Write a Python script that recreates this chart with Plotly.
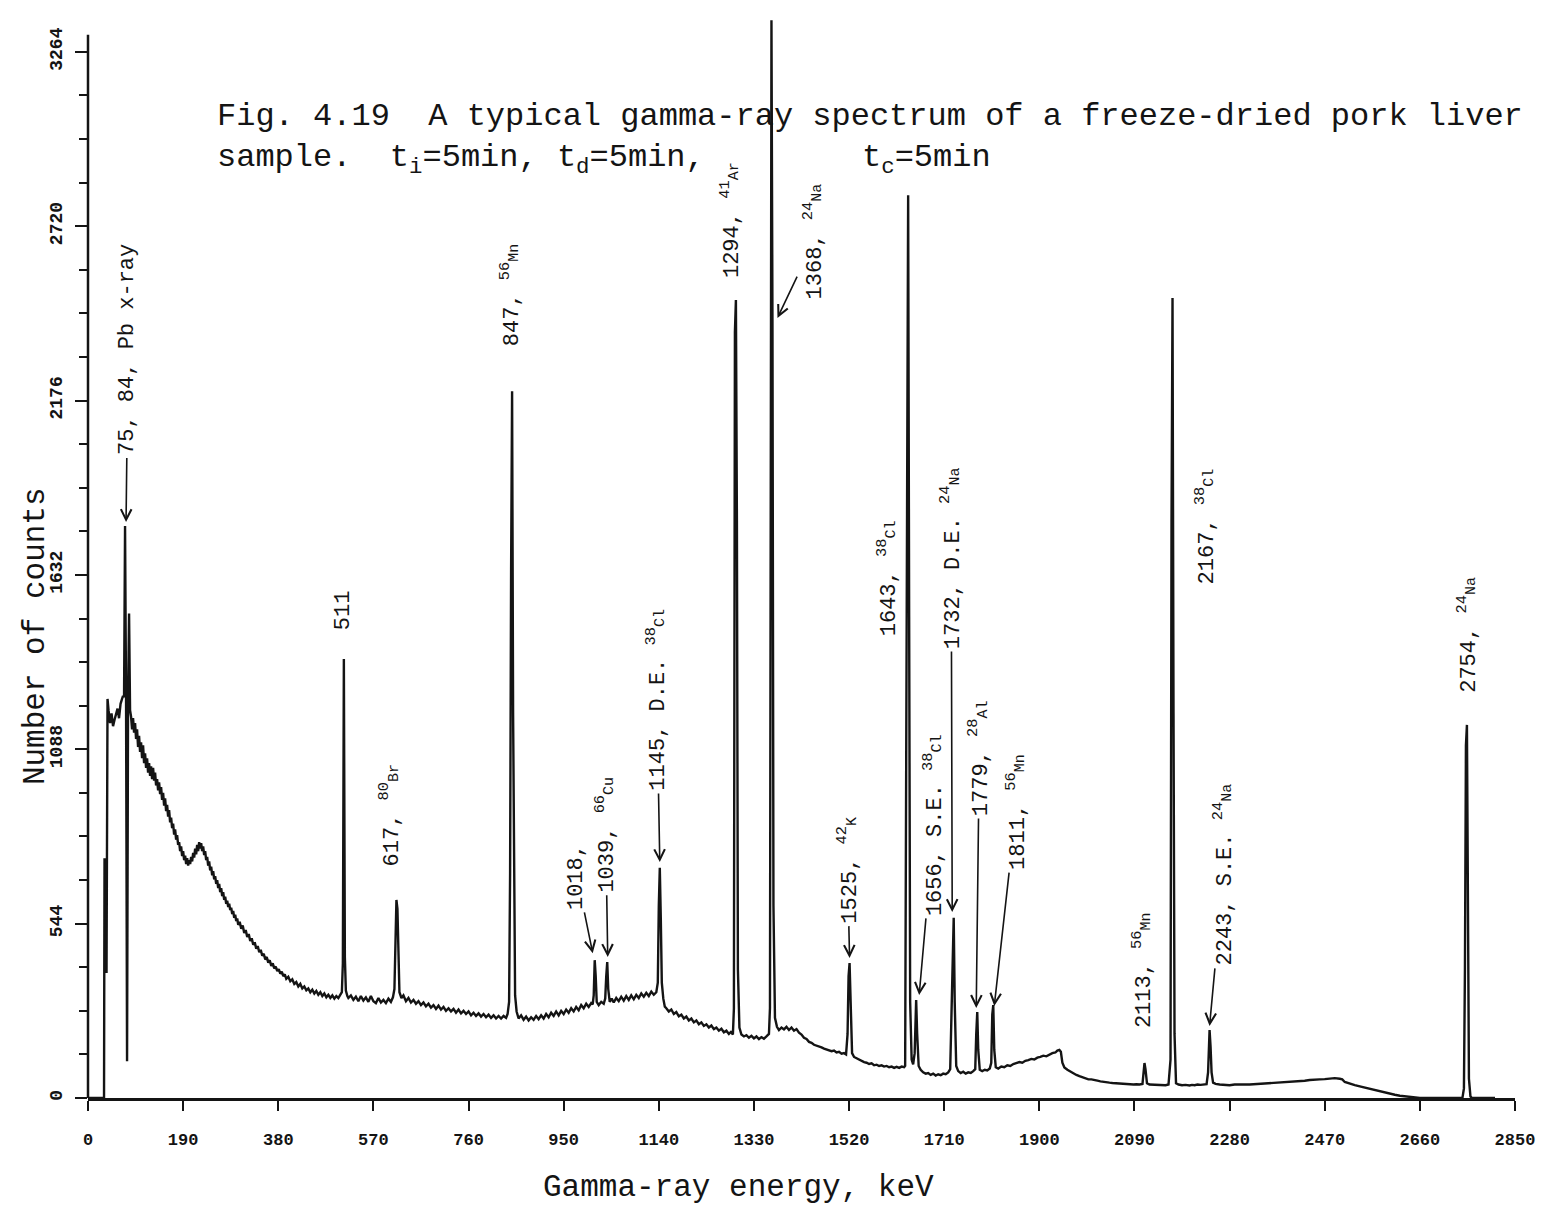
import plotly.graph_objects as go

# ---------------- data: (energy keV, counts) ----------------
region_0_84 = [
    (0, 0), (32, 0), (33, 744), (35, 744), (37, 390), (39, 1245), (41, 1210), (44, 1170), (47, 1200),
    (50, 1160), (53, 1180), (56, 1195), (59, 1215), (62, 1185), (65, 1230), (68, 1245), (70, 1255),
    (72, 1250), (74, 1785), (76, 1250), (78, 115), (80, 1240), (82, 1512), (84, 1210),
]
region_86_518 = [
    (86, 1190), (88, 1150), (90, 1185), (92, 1140), (94, 1170), (96, 1120), (98, 1150), (100, 1095),
    (102, 1130), (104, 1080), (106, 1110), (108, 1060), (110, 1100), (112, 1045), (114, 1075),
    (116, 1030), (118, 1060), (120, 1015), (122, 1045), (124, 1005), (126, 1035), (128, 995),
    (130, 1030), (132, 990), (134, 1015), (136, 975), (138, 995), (140, 960), (142, 985), (144, 948),
    (146, 970), (148, 930), (150, 952), (152, 912), (154, 935), (156, 895), (158, 915), (160, 878),
    (162, 898), (164, 860), (166, 875), (168, 842), (170, 856), (172, 822), (174, 838), (176, 806),
    (178, 820), (180, 790), (182, 798), (184, 770), (186, 785), (188, 755), (190, 770), (192, 742),
    (194, 756), (196, 730), (198, 748), (200, 725), (202, 742), (204, 730), (206, 752), (208, 738),
    (210, 765), (212, 750), (214, 778), (216, 760), (218, 790), (220, 770), (222, 798), (224, 778),
    (226, 795), (228, 770), (230, 785), (232, 758), (234, 770), (236, 742), (238, 752), (240, 725),
    (242, 738), (244, 710), (246, 722), (248, 695), (250, 708), (252, 682), (254, 692), (256, 668),
    (258, 680), (260, 655), (262, 668), (264, 642), (266, 655), (268, 630), (270, 642), (272, 618),
    (274, 628), (276, 606), (278, 616), (280, 596), (282, 606), (284, 586), (286, 594), (288, 574),
    (290, 584), (292, 562), (294, 572), (296, 552), (298, 560), (300, 540), (303, 550), (306, 528),
    (309, 538), (312, 515), (315, 524), (318, 502), (321, 512), (324, 490), (327, 498), (330, 478),
    (333, 486), (336, 466), (339, 474), (342, 455), (345, 462), (348, 444), (351, 450), (354, 432),
    (357, 440), (360, 422), (363, 430), (366, 412), (369, 420), (372, 404), (375, 410), (378, 396),
    (381, 402), (384, 388), (387, 394), (390, 380), (393, 386), (396, 372), (400, 378), (404, 364),
    (408, 370), (412, 356), (416, 362), (420, 348), (424, 356), (428, 342), (432, 348), (436, 336),
    (440, 342), (444, 330), (448, 338), (452, 326), (456, 334), (460, 322), (464, 330), (468, 318),
    (472, 326), (476, 314), (480, 322), (484, 312), (488, 320), (492, 310), (496, 318), (500, 312),
    (504, 322), (507, 330), (509, 420), (511, 1370), (513, 440), (515, 335), (518, 318),
]
region_520_1152 = [
    (520, 312), (525, 320), (530, 306), (535, 316), (540, 302), (545, 318), (550, 304), (555, 314),
    (560, 300), (565, 318), (570, 302), (575, 296), (580, 312), (585, 298), (590, 306), (595, 296),
    (600, 310), (605, 300), (609, 314), (612, 340), (614, 480), (616, 618), (618, 590), (620, 400),
    (622, 330), (626, 312), (630, 320), (635, 302), (640, 312), (645, 298), (650, 306), (655, 294),
    (660, 302), (665, 290), (670, 298), (675, 286), (680, 294), (685, 282), (690, 290), (695, 278),
    (700, 288), (705, 276), (710, 284), (715, 272), (720, 280), (725, 270), (730, 278), (735, 266),
    (740, 276), (745, 264), (750, 272), (755, 262), (760, 270), (765, 258), (770, 266), (775, 256),
    (780, 264), (785, 254), (790, 262), (795, 252), (800, 260), (805, 250), (810, 258), (815, 248),
    (820, 256), (825, 248), (830, 256), (835, 250), (838, 262), (841, 300), (843, 700), (845, 1640),
    (847, 2205), (849, 1200), (851, 500), (853, 320), (856, 270), (860, 248), (865, 258), (870, 244),
    (875, 254), (880, 242), (885, 252), (890, 244), (895, 256), (900, 246), (905, 258), (910, 248),
    (915, 262), (920, 252), (925, 266), (930, 256), (935, 270), (940, 258), (945, 272), (950, 262),
    (955, 276), (960, 266), (965, 280), (970, 270), (975, 284), (980, 274), (985, 290), (990, 280),
    (995, 294), (1000, 284), (1005, 296), (1008, 292), (1010, 320), (1012, 430), (1014, 380),
    (1016, 300), (1020, 290), (1025, 300), (1030, 294), (1033, 310), (1035, 380), (1037, 424),
    (1039, 340), (1042, 300), (1046, 310), (1050, 298), (1055, 312), (1060, 302), (1065, 316),
    (1070, 304), (1075, 318), (1080, 306), (1085, 320), (1090, 308), (1095, 322), (1100, 312),
    (1105, 326), (1110, 316), (1115, 328), (1120, 318), (1125, 332), (1130, 322), (1135, 330),
    (1138, 360), (1140, 600), (1142, 718), (1144, 560), (1146, 360), (1149, 310), (1152, 285),
]
region_1155_1642 = [
    (1155, 280), (1160, 270), (1165, 276), (1170, 262), (1175, 268), (1180, 255), (1185, 260),
    (1190, 248), (1195, 254), (1200, 242), (1205, 248), (1210, 236), (1215, 242), (1220, 230),
    (1225, 236), (1230, 225), (1235, 230), (1240, 220), (1245, 226), (1250, 215), (1255, 220),
    (1260, 210), (1265, 216), (1270, 205), (1275, 210), (1280, 200), (1284, 206), (1288, 198),
    (1290, 280), (1292, 2390), (1294, 2490), (1296, 1800), (1298, 400), (1301, 220), (1305, 198),
    (1310, 192), (1315, 196), (1320, 188), (1325, 194), (1330, 186), (1335, 192), (1340, 184),
    (1345, 190), (1350, 185), (1355, 192), (1360, 200), (1362, 280), (1364, 2365), (1365, 3363),
    (1367, 2430), (1369, 600), (1372, 250), (1376, 222), (1380, 212), (1385, 220), (1390, 214),
    (1395, 222), (1400, 212), (1405, 220), (1410, 210), (1415, 215), (1420, 204), (1425, 198),
    (1430, 188), (1435, 184), (1440, 175), (1445, 172), (1450, 166), (1455, 164), (1460, 160),
    (1465, 158), (1470, 154), (1475, 152), (1480, 150), (1485, 146), (1490, 148), (1495, 142),
    (1500, 144), (1505, 138), (1510, 140), (1514, 136), (1517, 200), (1519, 380), (1521, 421),
    (1523, 300), (1526, 140), (1530, 128), (1535, 124), (1540, 118), (1545, 116), (1550, 112),
    (1555, 110), (1560, 106), (1565, 108), (1570, 102), (1575, 104), (1580, 100), (1585, 102),
    (1590, 98), (1595, 100), (1600, 96), (1605, 98), (1610, 94), (1615, 97), (1620, 94), (1625, 98),
    (1630, 96), (1632, 100), (1634, 1008), (1635, 900), (1636, 2000), (1638, 2817), (1640, 1500),
    (1642, 300),
]
region_1645_2200 = [
    (1645, 120), (1648, 105), (1651, 140), (1654, 306), (1656, 200), (1659, 100), (1663, 88),
    (1668, 80), (1673, 76), (1678, 78), (1683, 72), (1688, 76), (1693, 70), (1698, 74), (1703, 71),
    (1708, 76), (1713, 74), (1718, 80), (1722, 90), (1725, 300), (1727, 520), (1729, 562),
    (1731, 300), (1734, 100), (1738, 84), (1743, 78), (1748, 82), (1753, 76), (1758, 80), (1763, 78),
    (1768, 84), (1772, 90), (1774, 200), (1776, 268), (1778, 150), (1781, 88), (1786, 84),
    (1791, 88), (1796, 86), (1801, 92), (1804, 110), (1806, 260), (1808, 290), (1810, 150),
    (1813, 96), (1818, 92), (1824, 98), (1830, 96), (1836, 102), (1842, 100), (1848, 106),
    (1854, 108), (1860, 112), (1866, 110), (1872, 116), (1878, 118), (1884, 122), (1890, 120),
    (1896, 126), (1902, 128), (1908, 132), (1914, 130), (1920, 136), (1926, 140), (1932, 142),
    (1936, 148), (1940, 150), (1943, 144), (1946, 110), (1950, 95), (1956, 88), (1962, 82),
    (1968, 78), (1974, 72), (1980, 68), (1986, 64), (1992, 62), (1998, 58), (2004, 58), (2010, 55),
    (2016, 54), (2022, 52), (2028, 50), (2034, 50), (2040, 48), (2046, 47), (2052, 46), (2058, 46),
    (2064, 45), (2070, 44), (2076, 44), (2082, 43), (2088, 42), (2094, 43), (2100, 42), (2106, 44),
    (2108, 70), (2110, 109), (2112, 90), (2115, 46), (2120, 42), (2128, 41), (2136, 40), (2144, 41),
    (2152, 40), (2158, 42), (2162, 120), (2164, 1800), (2166, 2496), (2168, 1200), (2170, 200),
    (2173, 46), (2178, 42), (2185, 40), (2192, 41), (2200, 39),
]
region_2205_2810 = [
    (2205, 41), (2210, 40), (2216, 42), (2222, 41), (2228, 42), (2234, 43), (2237, 80), (2239, 190),
    (2240, 212), (2242, 160), (2244, 80), (2247, 48), (2252, 44), (2260, 42), (2270, 41), (2280, 40),
    (2290, 42), (2300, 41), (2310, 42), (2320, 42), (2330, 43), (2340, 44), (2350, 44), (2360, 46),
    (2370, 46), (2380, 48), (2390, 49), (2400, 50), (2410, 52), (2420, 52), (2430, 54), (2440, 56),
    (2450, 56), (2460, 58), (2470, 59), (2480, 60), (2490, 62), (2500, 60), (2505, 58), (2510, 50),
    (2520, 44), (2530, 40), (2540, 36), (2550, 32), (2560, 28), (2570, 24), (2580, 20), (2590, 16),
    (2600, 13), (2610, 10), (2620, 7), (2630, 5), (2640, 3), (2650, 1), (2660, 0), (2745, 0),
    (2748, 30), (2750, 400), (2752, 1100), (2754, 1164), (2756, 500), (2758, 60), (2761, 5),
    (2764, 0), (2810, 0),
]

x_tick_values = [0, 190, 380, 570, 760, 950, 1140, 1330, 1520, 1710, 1900, 2090, 2280, 2470, 2660, 2850]
x_tick_labels = [str(v) for v in x_tick_values]
y_tick_values = [0, 544, 1088, 1632, 2176, 2720, 3264]
y_tick_labels = [str(v) for v in y_tick_values]

spectrum = (region_0_84 + region_86_518 + region_520_1152 + region_1155_1642
            + region_1645_2200 + region_2205_2810)
energy_kev = [p[0] for p in spectrum]
counts = [p[1] for p in spectrum]


def iso(mass, sym):
    return f"<sup>{mass}</sup><span style='font-size:15px'>{sym}</span>"


# peak labels: text, label-centre (energy, counts), arrow head (energy, counts) or None
peak_labels = [
    ("75, 84, Pb x-ray", 80, 2334, (76, 1797)),
    ("511", 510, 1523, None),
    ("617, " + iso(80, "Br"), 604, 883, None),
    ("847, " + iso(56, "Mn"), 843, 2505, None),
    ("1018,", 977, 690, (1008, 452)),
    ("1039, " + iso(66, "Cu"), 1034, 821, (1038, 440)),
    ("1145, D.E. " + iso(38, "Cl"), 1136, 1242, (1142, 736)),
    ("1294, " + iso(41, "Ar"), 1282, 2739, None),
    ("1368, " + iso(24, "Na"), 1449, 2671, (1377, 2434)),
    ("1525, " + iso(42, "K"), 1517, 711, (1521, 437)),
    ("1643, " + iso(38, "Cl"), 1596, 1622, None),
    ("1656, S.E. " + iso(38, "Cl"), 1690, 852, (1660, 321)),
    ("1732, D.E. " + iso(24, "Na"), 1724, 1685, (1726, 580)),
    ("1779, " + iso(28, "Al"), 1780, 1061, (1774, 281)),
    ("1811, " + iso(56, "Mn"), 1853, 892, (1810, 287)),
    ("2113, " + iso(56, "Mn"), 2105, 399, None),
    ("2167, " + iso(38, "Cl"), 2232, 1782, None),
    ("2243, S.E. " + iso(24, "Na"), 2268, 696, (2240, 225)),
    ("2754, " + iso(24, "Na"), 2756, 1445, None),
]

MONO = "Liberation Mono, DejaVu Sans Mono, monospace"
INK = "#141414"

fig = go.Figure()
fig.add_trace(go.Scatter(
    x=energy_kev, y=counts, mode="lines",
    line=dict(color=INK, width=2.4),
    showlegend=False, hoverinfo="skip",
))

annotations = []
for text, e, c, head in peak_labels:
    font = dict(family=MONO, size=22, color=INK)
    if head is None:
        annotations.append(dict(
            x=e, y=c, xref="x", yref="y", text=text, showarrow=False,
            textangle=-90, xanchor="center", yanchor="middle", font=font,
        ))
    else:
        annotations.append(dict(
            x=head[0], y=head[1], ax=e, ay=c, xref="x", yref="y", axref="x", ayref="y",
            text=text, textangle=-90, font=font, showarrow=True,
            arrowhead=5, arrowsize=1.3, arrowwidth=1.6, arrowcolor=INK,
            standoff=0, startstandoff=1,
        ))

TITLE_FONT = dict(family=MONO, size=32, color=INK)
title_split = (1098 - 137) / 1083
annotations += [
    dict(x=0.0888, y=title_split, xref="paper", yref="paper", xanchor="left", yanchor="bottom",
         text="Fig. 4.19\u00a0\u00a0A typical gamma-ray spectrum of a freeze-dried pork liver",
         showarrow=False, font=TITLE_FONT),
    dict(x=0.0888, y=title_split, xref="paper", yref="paper", xanchor="left", yanchor="top",
         text="sample.\u00a0\u00a0t<sub>i</sub>=5min, t<sub>d</sub>=5min,",
         showarrow=False, font=TITLE_FONT),
    dict(x=(862 - 88) / 1430, y=title_split, xref="paper", yref="paper", xanchor="left", yanchor="top",
         text="t<sub>c</sub>=5min", showarrow=False, font=TITLE_FONT),
    dict(x=(35 - 88) / 1430, y=(1098 - 636) / 1083, xref="paper", yref="paper",
         text="Number of counts", textangle=-90, showarrow=False,
         xanchor="center", yanchor="middle", font=dict(family=MONO, size=31, color=INK)),
    dict(x=(740 - 88) / 1430, y=(1098 - 1187) / 1083, xref="paper", yref="paper",
         text="Gamma-ray energy, keV", showarrow=False,
         xanchor="center", yanchor="middle", font=dict(family=MONO, size=31, color=INK)),
]

shapes = [
    dict(type="line", xref="paper", yref="paper", x0=0, x1=0, y0=0, y1=0.9817,
         line=dict(color=INK, width=2.5)),
]

fig.update_layout(
    width=1547, height=1212,
    margin=dict(l=88, r=29, t=15, b=114),
    paper_bgcolor="white", plot_bgcolor="white",
    annotations=annotations, shapes=shapes,
    xaxis=dict(
        range=[0, 2850], tickmode="array", tickvals=x_tick_values, ticktext=x_tick_labels,
        showgrid=False, zeroline=False, showline=True, linecolor=INK, linewidth=2.5,
        ticks="outside", ticklen=10, tickwidth=2, tickcolor=INK, ticklabelstandoff=14,
        tickfont=dict(family=MONO, size=17, color=INK, weight="bold"),
    ),
    yaxis=dict(
        range=[0, 3379], tickmode="array", tickvals=y_tick_values, ticktext=y_tick_labels,
        showgrid=False, zeroline=False, showline=False,
        ticks="outside", ticklen=12, tickwidth=2, tickcolor=INK, tickangle=-90,
        ticklabelstandoff=6,
        minor=dict(tick0=0, dtick=136, ticks="outside", ticklen=8, tickwidth=2, tickcolor=INK),
        tickfont=dict(family=MONO, size=18, color=INK, weight="bold"),
    ),
)

fig.write_html("out.html")
